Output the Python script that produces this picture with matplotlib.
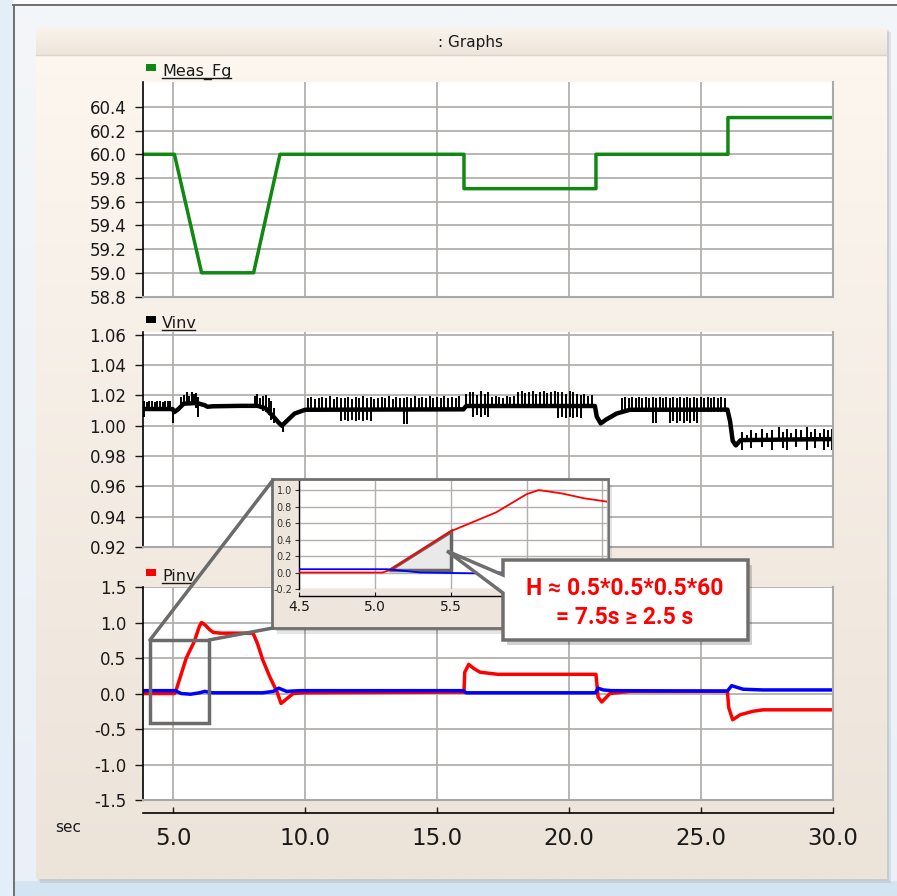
import numpy as np
import matplotlib.pyplot as plt
from matplotlib.patches import Rectangle, Polygon

W, H = 897, 896

# Meas_Fg (Hz)
fg_t = [3.86, 5.05, 6.08, 8.05, 9.05, 16.02, 16.02, 21.02, 21.02, 26.02, 26.02, 30.0]
fg_v = [60.0, 60.0, 59.0, 59.0, 60.0, 60.0, 59.71, 59.71, 60.0, 60.0, 60.31, 60.31]

# Vinv mean trace
vinv_t = [3.86, 4.98, 5.05, 5.2, 5.4, 5.9, 6.2, 6.3, 6.5, 7.6, 8.2, 8.5, 8.8, 9.0, 9.12,
          9.3, 9.6, 10.0, 16.0, 16.1, 20.98, 21.05, 21.2, 21.4, 21.8, 22.3, 26.0, 26.1,
          26.2, 26.32, 26.5, 30.0]
vinv_v = [1.011, 1.011, 1.009, 1.011, 1.0145, 1.015, 1.0135, 1.0125, 1.0128, 1.0131, 1.0131,
          1.0115, 1.006, 1.002, 1.0, 1.003, 1.008, 1.0105, 1.0108, 1.013, 1.013, 1.006, 1.0015,
          1.004, 1.008, 1.0105, 1.0106, 1.003, 0.99, 0.987, 0.9905, 0.9912]

# Vinv ripple spikes: time, top, bottom
spk_t = [3.9, 4.0, 4.1, 4.2, 4.3, 4.4, 4.5, 4.6, 4.7, 4.8, 4.9, 5.0,
         5.3, 5.42, 5.52, 5.62, 5.72, 5.8, 5.88, 5.95,
         8.1, 8.18, 8.3, 8.42, 8.52, 8.62, 8.72, 8.82, 9.15,
         10.1, 10.24, 10.38, 10.52, 10.66, 10.8, 10.94, 11.08, 11.22, 11.36, 11.5, 11.64,
         11.78, 11.92, 12.06, 12.2, 12.34, 12.48, 12.62, 12.76, 12.9, 13.04, 13.18, 13.32,
         13.46, 13.6, 13.74, 13.88, 14.02, 14.16, 14.3, 14.44, 14.58, 14.72, 14.86, 15.0,
         15.14, 15.28, 15.42, 15.56, 15.7, 15.84,
         16.1, 16.24, 16.38, 16.52, 16.66, 16.8, 16.94, 17.08, 17.22, 17.36, 17.5, 17.64,
         17.78, 17.92, 18.06, 18.2, 18.34, 18.48, 18.62, 18.76, 18.9, 19.04, 19.18, 19.32,
         19.46, 19.6, 19.74, 19.88, 20.02, 20.16, 20.3, 20.44, 20.58, 20.72, 20.86,
         22.0, 22.13, 22.26, 22.39, 22.52, 22.65, 22.78, 22.91, 23.04, 23.17, 23.3, 23.43,
         23.56, 23.69, 23.82, 23.95, 24.08, 24.21, 24.34, 24.47, 24.6, 24.73, 24.86, 24.99,
         25.12, 25.25, 25.38, 25.51, 25.64, 25.77, 25.9,
         26.55, 26.75, 26.9, 27.1, 27.3, 27.5, 27.7, 27.95, 28.1, 28.25, 28.4, 28.6, 28.8,
         29.0, 29.15, 29.3, 29.5, 29.65, 29.8, 29.95]
spk_hi = [1.016, 1.0155, 1.0165, 1.016, 1.0155, 1.0165, 1.016, 1.0155, 1.016, 1.0165, 1.016, 1.012,
          1.019, 1.0205, 1.022, 1.0195, 1.022, 1.021, 1.0215, 1.019,
          1.0195, 1.021, 1.018, 1.0195, 1.0205, 1.018, 1.016, 1.012, 1.002,
          1.018, 1.019, 1.0175, 1.0185, 1.019, 1.018, 1.0195, 1.0175, 1.019, 1.018, 1.0185, 1.019,
          1.0175, 1.019, 1.018, 1.0195, 1.018, 1.019, 1.0175, 1.0185, 1.019, 1.018, 1.0195, 1.0175,
          1.019, 1.018, 1.0185, 1.019, 1.018, 1.0195, 1.0185, 1.019, 1.018, 1.0195, 1.0185, 1.019,
          1.018, 1.0195, 1.0185, 1.019, 1.018, 1.0195,
          1.021, 1.0225, 1.022, 1.0205, 1.023, 1.021, 1.0225, 1.019, 1.0195, 1.019, 1.0185, 1.0195,
          1.019, 1.0195, 1.022, 1.023, 1.0215, 1.0225, 1.023, 1.021, 1.0225, 1.023, 1.0215, 1.0225,
          1.023, 1.022, 1.0225, 1.021, 1.023, 1.022, 1.021, 1.0205, 1.021, 1.0195, 1.0205,
          1.0185, 1.019, 1.0185, 1.019, 1.0185, 1.019, 1.0185, 1.019, 1.018, 1.019, 1.0185, 1.019,
          1.0185, 1.019, 1.0185, 1.019, 1.018, 1.019, 1.0185, 1.019, 1.0185, 1.019, 1.018, 1.019,
          1.0185, 1.019, 1.0185, 1.019, 1.0185, 1.019, 1.0185,
          0.996, 0.994, 0.997, 0.995, 0.998, 0.995, 0.997, 0.999, 0.996, 0.998, 0.995, 0.998, 0.997,
          0.999, 0.996, 0.998, 0.995, 0.998, 0.997, 0.998]
spk_lo = [1.006, 1.010, 1.010, 1.010, 1.010, 1.010, 1.010, 1.010, 1.010, 1.010, 1.010, 1.002,
          1.013, 1.014, 1.014, 1.014, 1.014, 1.014, 1.012, 1.006,
          1.012, 1.012, 1.012, 1.010, 1.009, 1.007, 1.004, 1.002, 0.996,
          1.0095, 1.0095, 1.0095, 1.0095, 1.0095, 1.0095, 1.0095, 1.0095, 1.0095, 1.003, 1.004, 1.003,
          1.004, 1.003, 1.004, 1.003, 1.004, 1.003, 1.0095, 1.0095, 1.0095, 1.0095, 1.0095, 1.0095,
          1.0095, 1.0095, 1.001, 1.001, 1.0095, 1.0095, 1.0095, 1.0095, 1.0095, 1.0095, 1.0095, 1.0095,
          1.0095, 1.0095, 1.0095, 1.0095, 1.0095, 1.0095,
          1.0115, 1.0115, 1.006, 1.007, 1.006, 1.007, 1.006, 1.0115, 1.0115, 1.0115, 1.0115, 1.0115,
          1.0115, 1.0115, 1.0115, 1.0115, 1.0115, 1.0115, 1.0115, 1.0115, 1.0115, 1.0115, 1.0115, 1.0115,
          1.0115, 1.005, 1.006, 1.005, 1.006, 1.005, 1.006, 1.005, 1.0115, 1.0115, 1.0115,
          1.009, 1.009, 1.009, 1.009, 1.009, 1.009, 1.009, 1.009, 1.009, 1.002, 1.002, 1.009,
          1.009, 1.009, 1.002, 1.003, 1.002, 1.003, 1.002, 1.003, 1.002, 1.003, 1.002, 1.009,
          1.009, 1.009, 1.009, 1.009, 1.009, 1.009, 1.009,
          0.984, 0.990, 0.985, 0.990, 0.986, 0.990, 0.984, 0.990, 0.985, 0.984, 0.990, 0.986, 0.990,
          0.984, 0.990, 0.985, 0.990, 0.984, 0.986, 0.984]

# Pinv (red) and the blue trace
pinv_t = [3.86, 5.05, 5.1, 5.5, 5.8, 6.0, 6.08, 6.23, 6.38, 6.53, 6.8, 8.03, 8.2, 8.4, 8.67,
          8.94, 9.09, 9.32, 9.55, 10.0, 16.02, 16.05, 16.2, 16.4, 16.63, 17.3, 21.02, 21.1,
          21.24, 21.55, 22.3, 26.0, 26.05, 26.2, 26.48, 26.97, 27.35, 30.0]
pinv_v = [0.0, 0.0, 0.03, 0.5, 0.73, 0.95, 1.0, 0.96, 0.9, 0.86, 0.85, 0.85, 0.7, 0.47, 0.23,
          0.02, -0.14, -0.07, 0.0, 0.01, 0.02, 0.3, 0.41, 0.35, 0.3, 0.27, 0.27, -0.05,
          -0.12, 0.0, 0.03, 0.03, -0.2, -0.37, -0.3, -0.25, -0.23, -0.23]
qinv_t = [3.86, 5.08, 5.3, 5.66, 6.0, 6.2, 6.5, 7.16, 8.4, 8.8, 9.0, 9.3, 9.8, 16.0, 16.1,
          21.0, 21.1, 21.3, 21.6, 26.0, 26.16, 26.6, 27.35, 30.0]
qinv_v = [0.04, 0.04, 0.0, -0.01, 0.01, 0.03, 0.01, 0.01, 0.01, 0.03, 0.075, 0.03, 0.04, 0.04,
          0.01, 0.01, 0.075, 0.05, 0.04, 0.035, 0.11, 0.06, 0.05, 0.05]

xticks = [5, 10, 15, 20, 25, 30]
fg_ticks = [58.8, 59.0, 59.2, 59.4, 59.6, 59.8, 60.0, 60.2, 60.4]
vinv_ticks = [0.92, 0.94, 0.96, 0.98, 1.00, 1.02, 1.04, 1.06]
pinv_ticks = [-1.5, -1.0, -0.5, 0.0, 0.5, 1.0, 1.5]
in_xticks = [4.5, 5.0, 5.5, 6.0, 6.5]
in_xlabels = ['4.5', '5.0', '5.5', '', '']
in_yticks = [-0.2, 0.0, 0.2, 0.4, 0.6, 0.8, 1.0]

TXT = '#1a1a1a'
GRID = '#b3b0ac'
EDGE = '#a9a9a9'


def px_axes(l, t, r, b, z):
    return fig.add_axes([l / W, 1 - b / H, (r - l) / W, (b - t) / H], zorder=z)


def pix_overlay(z):
    a = fig.add_axes([0, 0, 1, 1], zorder=z)
    a.set_xlim(0, W)
    a.set_ylim(H, 0)
    a.axis('off')
    return a


def vgrad(ax, x0, x1, y0, y1, c0, c1, z):
    g = np.linspace(0, 1, 64)[:, None, None]
    img = (1 - g) * np.array(c0)[None, None, :] + g * np.array(c1)[None, None, :]
    ax.imshow(img / 255, extent=(x0, x1, y1, y0), aspect='auto',
              interpolation='bilinear', zorder=z)


def style(ax, ylo, yhi, yt, fmt):
    ax.set_facecolor('white')
    ax.set_xlim(3.86, 30)
    ax.set_ylim(ylo, yhi)
    ax.set_xticks(xticks)
    ax.set_yticks(yt)
    ax.set_yticklabels([fmt.format(v) for v in yt])
    ax.grid(True, color=GRID, lw=1.3)
    ax.set_axisbelow(True)
    for s in ['right', 'bottom']:
        ax.spines[s].set_color(EDGE)
        ax.spines[s].set_linewidth(1.5)
    ax.spines['top'].set_visible(False)
    ax.spines['left'].set_color('black')
    ax.spines['left'].set_linewidth(1.2)
    ax.tick_params(axis='y', direction='out', length=6, width=1, pad=6,
                   labelsize=12, colors=TXT)
    ax.tick_params(axis='x', length=0, labelbottom=False)


fig = plt.figure(figsize=(W / 100, H / 100), dpi=100)

# window background
bg = pix_overlay(0)
vgrad(bg, 0, W, 0, H, (244, 246, 249), (233, 240, 247), 0)
bg.add_patch(Rectangle((0, 0), 13, H, color='#e3eef8', lw=0, zorder=0.5))
bg.add_patch(Rectangle((13, 0), W, 5, color='#fbfbfb', lw=0, zorder=0.5))
bg.add_patch(Rectangle((14, 881), W, 15, color='#d3e5f3', lw=0, zorder=0.5))
bg.plot([13.5, 13.5], [5, H], color='#6f6f6f', lw=1.4, zorder=0.6)
bg.plot([13, W], [5.5, 5.5], color='#6f6f6f', lw=1.4, zorder=0.6)
bg.add_patch(Rectangle((40, 32), 851, 851, color='black', alpha=0.08, lw=0, zorder=1))
bg.add_patch(Rectangle((38, 30), 851, 851, color='black', alpha=0.08, lw=0, zorder=1))
vgrad(bg, 36, 887, 28, 879, (253, 247, 240), (236, 227, 217), 2)
vgrad(bg, 36, 887, 28, 55, (250, 243, 235), (237, 229, 220), 3)
bg.plot([36, 887], [55, 55], color='#dcd3c8', lw=1, zorder=4)
bg.text(470, 42, ': Graphs', fontsize=11, color=TXT, ha='center', va='center', zorder=5)
bg.text(68, 828, 'sec', fontsize=11, color=TXT, ha='center', va='center', zorder=5)

# series labels
for y0, name, col, x1 in [(64, 'Meas_Fg', '#118811', 231), (316, 'Vinv', 'black', 195),
                          (569, 'Pinv', '#ff0000', 193)]:
    bg.add_patch(Rectangle((146, y0), 10, 7, color=col, lw=0, zorder=5))
    bg.text(162, y0 + 12, name, fontsize=11.5, color=TXT, ha='left', va='baseline', zorder=5)
    bg.plot([162, x1], [y0 + 14.5, y0 + 14.5], color=TXT, lw=1, zorder=5)
bg.set_xlim(0, W)
bg.set_ylim(H, 0)

ax1 = px_axes(143, 82, 833, 296.5, 1)
ax2 = px_axes(143, 332, 833, 547, 1)
ax3 = px_axes(143, 587, 833, 800, 1)

style(ax1, 58.8, 60.61, fg_ticks, '{:.1f}')
style(ax2, 0.92, 1.0618, vinv_ticks, '{:.2f}')
style(ax3, -1.5, 1.5, pinv_ticks, '{:.1f}')

ax1.plot(fg_t, fg_v, color='#118811', lw=2.5)
ax2.plot(vinv_t, vinv_v, color='black', lw=3.2)
ax2.vlines(spk_t, spk_lo, spk_hi, colors='black', lw=1.4)
ax3.plot(pinv_t, pinv_v, color='#ff0000', lw=2.5)
ax3.plot(qinv_t, qinv_v, color='#0000ff', lw=2.5)

ax3.spines['bottom'].set_position(('outward', 9.4))
ax3.spines['bottom'].set_color('black')
ax3.spines['bottom'].set_linewidth(1.2)
ax3.axhline(-1.5, color=EDGE, lw=1.5, clip_on=False, zorder=3)
ax3.tick_params(axis='x', direction='in', length=4, width=1, labelbottom=True,
                labelsize=16.5, pad=10, colors=TXT)
ax3.set_xticklabels(['{:.1f}'.format(v) for v in xticks])
ax3.add_patch(Rectangle((4.13, -0.41), 2.23, 1.16, fill=False, ec='#6b6b6b', lw=2.5, zorder=5))

# zoom frame and connectors
ov = pix_overlay(2)
ov.plot([150, 273], [640, 480], color='#6b6b6b', lw=2.5, solid_capstyle='round')
ov.plot([209, 273], [640, 628], color='#6b6b6b', lw=2.5, solid_capstyle='round')
ov.add_patch(Rectangle((277, 485), 335, 149, color='black', alpha=0.10, lw=0))
ov.add_patch(Rectangle((275, 482), 335, 149, color='black', alpha=0.13, lw=0))
ov.add_patch(Rectangle((272, 479), 336, 149, fc='#eee6dd', ec='#707070', lw=2))

inax = px_axes(299, 481, 607, 589, 3)
inax.set_facecolor('white')
inax.set_xlim(4.5, 6.53)
inax.set_ylim(-0.2, 1.11)
inax.set_xticks(in_xticks)
inax.set_xticklabels(in_xlabels)
inax.set_yticks(in_yticks)
inax.set_yticklabels(['{:.1f}'.format(v) for v in in_yticks])
inax.grid(True, color=GRID, lw=1)
inax.set_axisbelow(True)
inax.spines['top'].set_visible(False)
inax.spines['right'].set_color(EDGE)
inax.spines['left'].set_linewidth(1)
inax.spines['bottom'].set_position(('outward', 5))
inax.spines['bottom'].set_linewidth(1)
inax.tick_params(axis='y', direction='out', length=3, width=0.8, pad=2, labelsize=7, colors='#333333')
inax.tick_params(axis='x', direction='in', length=3, width=0.8, pad=3, labelsize=10, colors=TXT)
inax.add_patch(Polygon([(5.09, 0.03), (5.5, 0.03), (5.5, 0.5)], closed=True, fc='#e9e9e9',
                       ec='#666666', lw=2.5, zorder=2))
inax.plot(pinv_t, pinv_v, color='#ff0000', lw=1.3, zorder=3)
inax.plot(qinv_t, qinv_v, color='#0000ff', lw=1.3, zorder=3)

# callout
ov2 = pix_overlay(4)
ov2.add_patch(Rectangle((507, 565), 245, 80, color='black', alpha=0.18, lw=0))
ov2.add_patch(Polygon([(503, 560), (748, 560), (748, 640), (503, 640), (503, 593),
                       (447, 551), (503, 575)], closed=True, fc='white', ec='#6e6e6e',
                      lw=2.5, joinstyle='miter'))
fam = ['Roboto', 'DejaVu Sans']
ov2.text(625, 595, 'H ≈ 0.5*0.5*0.5*60', color='#ff0000', fontsize=16.5, weight='bold',
         family=fam, ha='center', va='baseline')
ov2.text(625, 624, '= 7.5s ≥ 2.5 s', color='#ff0000', fontsize=16.5, weight='bold',
         family=fam, ha='center', va='baseline')

fig.savefig('out.png', dpi=100)
